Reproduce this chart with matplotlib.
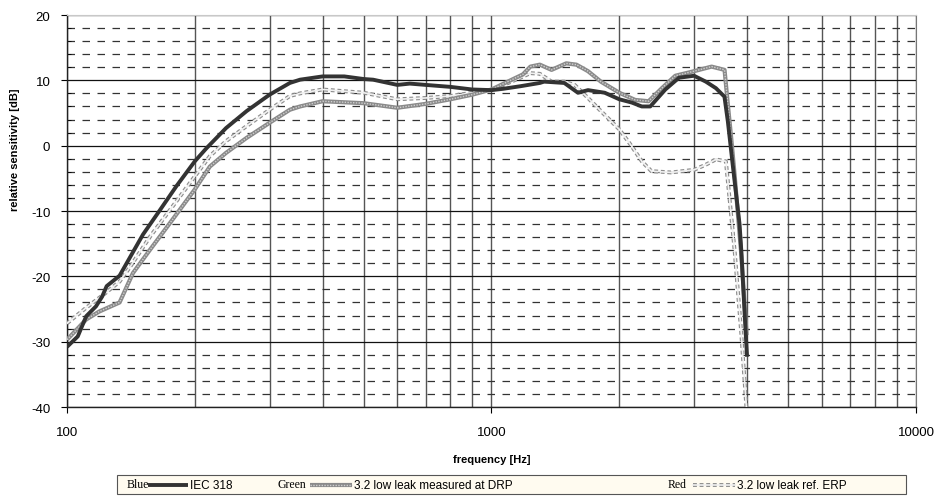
import matplotlib
matplotlib.use("Agg")
import matplotlib.pyplot as plt
from matplotlib.ticker import FixedLocator, MultipleLocator, NullFormatter, LogLocator
from matplotlib.patches import Rectangle

plt.rcParams['font.family'] = ['Liberation Sans', 'DejaVu Sans']

# ---- data ----
blue_f = [100, 106, 111, 117, 121, 124, 133, 141, 151, 165, 181, 200, 213, 237, 265, 300, 335, 354,
          400, 450, 500, 526, 600, 642, 700, 800, 900, 1000, 1064, 1170, 1300, 1330, 1484, 1598,
          1688, 1848, 2000, 2140, 2260, 2366, 2568, 2765, 3000, 3198, 3378, 3538, 3604, 3700,
          3840, 3876, 3970, 4000]
blue_db = [-30.8, -29.2, -26.1, -24.6, -23.1, -21.5, -19.9, -17.0, -13.6, -10.0, -6.2, -2.4, -0.4,
           2.7, 5.3, 7.8, 9.6, 10.1, 10.6, 10.6, 10.2, 10.1, 9.3, 9.5, 9.3, 9.0, 8.6, 8.5, 8.7,
           9.1, 9.6, 9.8, 9.6, 8.1, 8.5, 8.1, 7.1, 6.6, 6.0, 6.0, 8.6, 10.4, 10.7, 9.8, 8.8, 7.5,
           3.7, -2.9, -12.0, -16.0, -28.7, -32.3]

green_f = [100, 111, 119, 133, 143, 157, 175, 200, 217, 237, 265, 300, 335, 354, 400, 500, 600,
           700, 800, 900, 1000, 1185, 1235, 1300, 1385, 1500, 1585, 1688, 1810, 2000, 2180, 2344,
           2520, 2710, 3000, 3300, 3540, 3604, 3670, 3738, 3880, 3990]
green_db = [-29.7, -26.6, -25.4, -24.0, -19.5, -15.9, -11.8, -6.7, -3.2, -1.1, 1.2, 3.5, 5.5, 6.0,
            6.8, 6.5, 5.8, 6.4, 7.1, 7.8, 8.6, 10.9, 12.1, 12.4, 11.6, 12.6, 12.4, 11.4, 9.8, 8.1,
            7.0, 6.8, 8.8, 10.7, 11.4, 12.1, 11.6, 6.3, 1.2, -4.4, -17.0, -29.0]

red_f = [100, 111, 123, 133, 141, 157, 175, 200, 217, 237, 265, 300, 335, 354, 400, 500, 600, 700,
         800, 900, 1000, 1170, 1235, 1300, 1385, 1484, 1570, 1688, 1810, 2000, 2140, 2260, 2380,
         2650, 3000, 3200, 3378, 3566, 3738, 3876, 3985, 4010]
red_db = [-27.2, -24.8, -22.6, -20.8, -18.5, -13.9, -9.8, -4.7, -1.6, 0.7, 3.0, 5.5, 7.6, 8.0, 8.6,
          8.1, 7.1, 7.3, 7.6, 8.1, 8.5, 10.4, 11.1, 11.0, 9.8, 9.8, 9.3, 7.3, 5.3, 2.5, -0.1, -2.4,
          -3.9, -4.1, -3.7, -2.9, -2.1, -2.4, -16.0, -28.7, -40.0, -42.0]

x_ticks = [100, 1000, 10000]
y_ticks = [-40, -30, -20, -10, 0, 10, 20]
legend_prefix = ["Blue", "Green", "Red"]
legend_labels = ["IEC 318", "3.2 low leak measured at DRP", "3.2 low leak ref. ERP"]

W, H = 937, 502
fig = plt.figure(figsize=(W / 100, H / 100), dpi=100)
L, R, T, B = 67, 916, 16, 408
ax = fig.add_axes([L / W, 1 - B / H, (R - L) / W, (B - T) / H])

ax.set_xscale('log')
ax.set_xlim(100, 10000)
ax.set_ylim(-40, 20)

# grid
ax.yaxis.set_major_locator(FixedLocator(y_ticks))
ax.yaxis.set_minor_locator(MultipleLocator(2))
ax.xaxis.set_major_locator(FixedLocator(x_ticks))
ax.xaxis.set_minor_locator(LogLocator(base=10, subs=range(2, 10)))
ax.xaxis.set_minor_formatter(NullFormatter())
ax.set_xticklabels([str(v) for v in x_ticks])
ax.set_yticklabels([str(v) for v in y_ticks])
ax.grid(True, axis='y', which='major', color='#111111', lw=0.9, ls='-')
ax.grid(True, axis='y', which='minor', color='#333333', lw=0.9, ls=(0, (6, 6)))
ax.grid(True, axis='x', which='both', color='#555555', lw=1.0, ls='-')
ax.set_axisbelow(True)

ax.tick_params(axis='both', which='major', labelsize=9.5, length=4, direction='out', width=0.8,
               colors='black')
ax.tick_params(axis='x', which='major', pad=10)
ax.tick_params(axis='y', which='major', pad=8)
ax.tick_params(axis='y', which='minor', length=3, direction='in', width=0.6)
ax.tick_params(axis='x', which='minor', length=0)
for s in ['left', 'bottom']:
    ax.spines[s].set_color('#222222')
    ax.spines[s].set_linewidth(1.0)
ax.spines['top'].set_color('#c8c8c8')
ax.spines['right'].set_color('#777777')


def draw_blue(a, x, y, **kw):
    return [a.plot(x, y, color='#333333', lw=2.8, solid_capstyle='butt', **kw)[0]]


def draw_green(a, x, y, **kw):
    l1 = a.plot(x, y, color='#8a8a8a', lw=3.0, solid_capstyle='butt', **kw)[0]
    l2 = a.plot(x, y, color='#cfcfcf', lw=1.0, ls=(0, (1, 1)), **kw)[0]
    return [l1, l2]


def draw_red(a, x, y, **kw):
    l1 = a.plot(x, y, color='#8c8c8c', lw=2.8, ls=(0, (1, 0.7)), **kw)[0]
    l2 = a.plot(x, y, color='#f0f0f0', lw=1.2, **kw)[0]
    return [l1, l2]


draw_red(ax, red_f, red_db, zorder=3)
draw_green(ax, green_f, green_db, zorder=4)
draw_blue(ax, blue_f, blue_db, zorder=5)

ax.set_xlabel('frequency [Hz]', fontsize=8, fontweight='bold')
ax.set_ylabel('relative sensitivity [dB]', fontsize=8, fontweight='bold')
ax.xaxis.set_label_coords(0.5, (B - 455) / (B - T))
ax.yaxis.set_label_coords((20 - L) / (R - L), (B - 150) / (B - T))

# ---- legend box (figure pixel coordinates) ----
lax = fig.add_axes([0, 0, 1, 1], facecolor='none')
lax.set_xlim(0, W)
lax.set_ylim(H, 0)
lax.axis('off')
lax.add_patch(Rectangle((117, 476), 906 - 117, 19, facecolor='#fffbf0', edgecolor='#555555',
                        lw=0.8, zorder=1))
ly = 486
entries = [(127, 148, 188, 190), (278, 310, 352, 354), (668, 693, 735, 737)]
drawers = [draw_blue, draw_green, draw_red]
for (tx, l0, l1, tx2), pre, lab, dr in zip(entries, legend_prefix, legend_labels, drawers):
    lax.text(tx, ly - 0.5, pre, family='Liberation Serif', fontsize=8.5, va='center', ha='left',
             zorder=3)
    dr(lax, [l0, l1], [ly, ly], zorder=2)
    lax.text(tx2, ly, lab, fontsize=8.5, va='center', ha='left', zorder=3)

fig.savefig('out.png', dpi=100)
